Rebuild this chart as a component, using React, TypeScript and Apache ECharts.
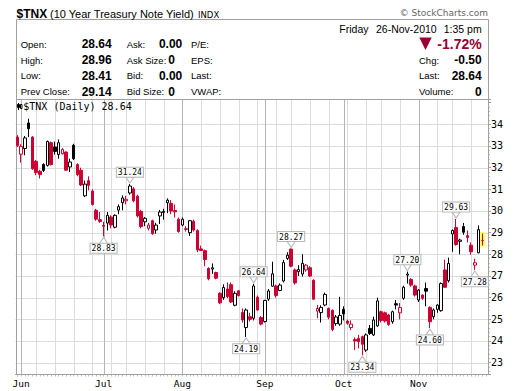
import { useEffect, useRef } from 'react';
import * as echarts from 'echarts';

// ---- data ----
const dates = [
  '05/28',
  '06/01','06/02','06/03','06/04','06/07','06/08','06/09','06/10','06/11','06/14','06/15','06/16','06/17','06/18','06/21','06/22','06/23','06/24','06/25','06/28','06/29','06/30',
  '07/01','07/02','07/06','07/07','07/08','07/09','07/12','07/13','07/14','07/15','07/16','07/19','07/20','07/21','07/22','07/23','07/26','07/27','07/28','07/29','07/30',
  '08/02','08/03','08/04','08/05','08/06','08/09','08/10','08/11','08/12','08/13','08/16','08/17','08/18','08/19','08/20','08/23','08/24','08/25','08/26','08/27','08/30','08/31',
  '09/01','09/02','09/03','09/07','09/08','09/09','09/10','09/13','09/14','09/15','09/16','09/17','09/20','09/21','09/22','09/23','09/24','09/27','09/28','09/29','09/30',
  '10/01','10/04','10/05','10/06','10/07','10/08','10/12','10/13','10/14','10/15','10/18','10/19','10/20','10/21','10/22','10/25','10/26','10/27','10/28','10/29',
  '11/01','11/02','11/03','11/04','11/05','11/08','11/09','11/10','11/12','11/15','11/16','11/17','11/18','11/19','11/22','11/23','11/24','11/26',
];

const opens = [
  33.41, 32.62, 32.88, 34.06, 33.41, 32.29, 31.83, 32.15, 32.10, 33.15,
  32.95, 32.60, 32.64, 32.72, 32.03, 33.03, 32.14, 31.88, 30.70, 31.40,
  30.92, 30.03, 29.60, 29.33, 29.44, 29.72, 29.25, 30.04, 30.38, 30.47,
  30.83, 31.02, 30.68, 29.98, 29.50, 29.20, 29.55, 29.12, 29.77, 29.93,
  30.38, 30.35, 30.02, 29.62, 29.35, 29.18, 29.00, 29.52, 29.10, 28.25,
  28.17, 27.35, 27.32, 27.16, 26.20, 26.00, 26.40, 26.60, 25.65, 26.32,
  25.31, 24.62, 25.12, 25.05, 26.02, 25.08, 24.90, 25.93, 26.53, 26.54,
  26.33, 26.77, 27.81, 28.24, 27.28, 27.20, 27.09, 27.28, 27.38, 26.80,
  25.38, 25.31, 25.66, 25.50, 25.42, 24.80, 24.78, 25.46, 24.92, 24.62,
  24.07, 24.12, 24.20, 23.58, 24.58, 24.28, 24.70, 25.35, 25.30, 25.20,
  24.89, 25.72, 25.30, 25.97, 27.04, 26.84, 26.54, 25.89, 26.12, 26.42,
  25.55, 25.12, 25.46, 25.40, 27.28, 26.78, 28.94, 29.24, 28.60, 29.28,
  28.86, 28.42, 27.50, 28.07, 28.64,
];

const highs = [
  33.50, 33.08, 33.46, 34.26, 33.45, 32.35, 31.90, 32.20, 33.25, 33.20,
  33.20, 33.30, 32.90, 32.75, 32.41, 33.10, 32.20, 32.00, 31.40, 31.60,
  31.00, 30.10, 29.95, 29.50, 29.95, 29.80, 29.85, 30.30, 30.72, 30.70,
  31.24, 31.10, 30.75, 30.05, 29.72, 29.45, 29.60, 29.45, 30.05, 30.10,
  30.58, 30.50, 30.30, 29.70, 29.70, 29.30, 29.58, 29.60, 29.15, 28.40,
  28.22, 27.40, 27.58, 27.20, 26.25, 26.62, 26.70, 26.70, 26.30, 26.35,
  25.50, 25.50, 25.30, 26.64, 26.10, 25.15, 25.90, 26.40, 27.66, 26.60,
  26.66, 27.74, 28.10, 28.27, 27.35, 27.50, 28.00, 27.55, 27.45, 26.85,
  25.66, 25.65, 26.23, 25.55, 25.45, 25.20, 26.04, 25.60, 24.98, 24.95,
  24.17, 24.28, 24.25, 24.35, 24.74, 25.12, 26.00, 25.40, 25.35, 25.25,
  25.40, 25.89, 25.75, 26.55, 27.20, 26.90, 26.60, 26.40, 26.15, 26.70,
  25.60, 25.50, 25.70, 26.70, 27.75, 27.85, 29.15, 29.63, 28.72, 29.45,
  29.10, 28.55, 27.80, 29.33, 28.96,
];

const lows = [
  32.95, 32.23, 32.57, 33.41, 31.90, 31.65, 31.50, 31.80, 32.05, 32.10,
  32.60, 32.41, 32.60, 31.85, 31.80, 32.35, 31.60, 31.15, 30.64, 30.95,
  30.25, 29.55, 29.45, 28.83, 29.10, 29.20, 29.20, 29.85, 30.03, 30.30,
  30.75, 30.40, 29.70, 29.20, 29.30, 29.10, 28.90, 28.95, 29.40, 29.60,
  29.90, 29.85, 29.70, 29.00, 29.30, 29.05, 28.85, 29.05, 28.10, 28.15,
  27.45, 26.80, 27.10, 26.85, 25.70, 25.90, 25.98, 25.75, 25.60, 26.05,
  24.85, 24.19, 24.90, 24.95, 25.40, 24.72, 24.85, 25.85, 26.50, 26.00,
  26.30, 26.70, 27.74, 27.40, 26.60, 27.00, 26.97, 27.20, 26.95, 25.90,
  25.05, 24.85, 25.60, 25.00, 24.45, 24.70, 24.70, 24.95, 24.75, 24.50,
  23.58, 23.66, 23.34, 23.50, 24.28, 24.23, 24.65, 24.85, 24.85, 24.70,
  24.80, 25.46, 25.00, 25.90, 26.65, 26.50, 26.05, 25.80, 25.90, 25.60,
  24.60, 25.00, 25.30, 25.35, 26.45, 26.70, 28.12, 28.40, 28.00, 28.90,
  28.55, 27.98, 27.28, 28.05, 28.41,
];

const closes = [
  33.02, 32.98, 33.37, 33.80, 31.95, 31.77, 31.68, 31.87, 33.21, 32.14,
  32.75, 33.15, 32.84, 31.88, 32.26, 32.41, 31.68, 31.20, 31.24, 31.18,
  30.30, 29.62, 29.52, 29.30, 29.80, 29.35, 29.80, 30.20, 30.60, 30.54,
  31.15, 30.47, 29.77, 29.28, 29.66, 29.35, 28.95, 29.35, 29.95, 29.98,
  30.50, 30.00, 29.96, 29.05, 29.62, 29.15, 29.55, 29.12, 28.20, 28.18,
  27.76, 26.87, 27.38, 26.90, 25.76, 26.47, 26.05, 25.80, 26.20, 26.10,
  24.97, 25.43, 25.00, 26.54, 25.43, 24.78, 25.87, 26.31, 27.10, 26.10,
  26.58, 27.62, 27.96, 27.45, 26.68, 27.30, 27.58, 27.50, 27.00, 25.93,
  25.50, 25.55, 26.15, 25.10, 24.53, 25.11, 25.18, 25.25, 24.82, 24.78,
  24.00, 23.97, 23.85, 24.28, 24.35, 24.97, 25.85, 24.95, 24.92, 24.76,
  25.35, 25.66, 25.55, 26.48, 27.09, 26.58, 26.12, 26.35, 25.97, 26.30,
  24.89, 25.43, 25.66, 26.65, 26.48, 27.58, 29.10, 28.45, 28.66, 29.02,
  28.78, 28.12, 27.61, 29.14, 28.64,
];

const yTicks = [23, 24, 25, 26, 27, 28, 29, 30, 31, 32, 33, 34];
const monthNames = ['Jan', 'Feb', 'Mar', 'Apr', 'May', 'Jun', 'Jul', 'Aug', 'Sep', 'Oct', 'Nov', 'Dec'];
const highMarks = [30, 63, 73, 104, 117];
const lowMarks = [23, 61, 92, 110, 122];

const RED = '#cc0033';
const DARK_RED = '#990033';
const SANS = '"Liberation Sans", Arial, sans-serif';
const MONO = '"DejaVu Sans Mono", monospace';

function toDate(s: string) {
  const [m, d] = s.split('/').map(Number);
  return new Date(2010, m - 1, d);
}

function txt(text: string, x: number, y: number, font: string, opts: any = {}) {
  return {
    type: 'text',
    x,
    y,
    z: 20,
    silent: true,
    style: {
      text,
      font,
      fill: opts.fill || '#000',
      align: opts.align || 'left',
      textAlign: opts.align || 'left',
      verticalAlign: 'middle',
      textVerticalAlign: 'middle',
    },
  };
}

export default function App() {
  const ref = useRef<HTMLDivElement>(null);

  useEffect(() => {
    document.body.style.margin = '0';
    const chart = echarts.init(ref.current!, null, { renderer: 'svg' });

    const ds = dates.map(toDate);
    const monthStart = dates.map((_, i) => i > 0 && ds[i].getMonth() !== ds[i - 1].getMonth());
    const weekStart = dates.map(
      (_, i) =>
        i > 0 &&
        (ds[i].getDay() < ds[i - 1].getDay() || ds[i].getTime() - ds[i - 1].getTime() >= 7 * 86400000)
    );
    const cats = [...dates, ''];

    const candleData = dates.map((_, i) => {
      const o = opens[i];
      const c = closes[i];
      const prev = i > 0 ? closes[i - 1] : o;
      const col = c < prev ? RED : '#000000';
      const fill = c > o ? '#ffffff' : col;
      return {
        value: [o, c, lows[i], highs[i]],
        itemStyle: {
          color: fill,
          color0: fill,
          borderColor: col,
          borderColor0: col,
          borderColorDoji: col,
          borderWidth: 1,
        },
      };
    });

    const vLines: number[][] = [];
    dates.forEach((_, i) => {
      if (monthStart[i] || weekStart[i]) vLines.push([i, 30, monthStart[i] ? 1 : 0]);
    });

    const last = dates.length - 1;

    const graphic: any[] = [
      // header box & plot frame
      { type: 'rect', z: 1, silent: true, shape: { x: 16.5, y: 19.5, width: 472, height: 80 }, style: { fill: '#fff', stroke: '#a0a0a0', lineWidth: 1 } },
      { type: 'rect', z: 1, silent: true, shape: { x: 16.5, y: 99.5, width: 472, height: 275 }, style: { fill: 'none', stroke: '#a0a0a0', lineWidth: 1 } },
      // title
      txt('$TNX', 16.5, 14, `bold 12px ${SANS}`),
      txt('(10 Year Treasury Note Yield)', 50, 14, `11px ${SANS}`),
      txt('INDX', 198, 14.5, `8.5px "DejaVu Sans", sans-serif`),
      txt('\u00A9 StockCharts.com', 488, 12.5, `9px "DejaVu Sans", sans-serif`, { align: 'right', fill: '#666' }),
      // left table
      txt('Open:', 20.7, 44, `9.5px ${SANS}`),
      txt('High:', 20.7, 60, `9.5px ${SANS}`),
      txt('Low:', 20.7, 75.7, `9.5px ${SANS}`),
      txt('Prev Close:', 20.7, 91.7, `9.5px ${SANS}`),
      txt('28.64', 111.7, 44, `bold 12px ${SANS}`, { align: 'right' }),
      txt('28.96', 111.7, 60, `bold 12px ${SANS}`, { align: 'right' }),
      txt('28.41', 111.7, 75.7, `bold 12px ${SANS}`, { align: 'right' }),
      txt('29.14', 111.7, 91.7, `bold 12px ${SANS}`, { align: 'right' }),
      txt('Ask:', 126.7, 44, `9.5px ${SANS}`),
      txt('Ask Size:', 126.7, 60, `9.5px ${SANS}`),
      txt('Bid:', 126.7, 75.7, `9.5px ${SANS}`),
      txt('Bid Size:', 126.7, 91.7, `9.5px ${SANS}`),
      txt('0.00', 182.3, 44, `bold 12px ${SANS}`, { align: 'right' }),
      txt('0', 175, 60, `bold 12px ${SANS}`, { align: 'right' }),
      txt('0.00', 182.3, 75.7, `bold 12px ${SANS}`, { align: 'right' }),
      txt('0', 175, 91.7, `bold 12px ${SANS}`, { align: 'right' }),
      txt('P/E:', 191, 44, `9.5px ${SANS}`),
      txt('EPS:', 191, 60, `9.5px ${SANS}`),
      txt('Last:', 191, 75.7, `9.5px ${SANS}`),
      txt('VWAP:', 191, 91.7, `9.5px ${SANS}`),
      // right block
      txt('Friday', 339.3, 29, `10.5px ${SANS}`),
      txt('26-Nov-2010', 376, 29, `10.5px ${SANS}`),
      txt('1:35 pm', 481.7, 29, `10.5px ${SANS}`, { align: 'right' }),
      {
        type: 'polygon', z: 20, silent: true,
        shape: { points: [[419.3, 37.5], [431.7, 37.5], [425.5, 50]] },
        style: { fill: DARK_RED },
      },
      txt('-1.72%', 481.7, 43.8, `bold 14px ${SANS}`, { align: 'right', fill: DARK_RED }),
      txt('Chg:', 419, 60, `9.5px ${SANS}`),
      txt('-0.50', 481.7, 60, `bold 12px ${SANS}`, { align: 'right' }),
      txt('Last:', 419, 75.7, `9.5px ${SANS}`),
      txt('28.64', 481.7, 75.7, `bold 12px ${SANS}`, { align: 'right' }),
      txt('Volume:', 419, 91.7, `9.5px ${SANS}`),
      txt('0', 481.7, 91.7, `bold 12px ${SANS}`, { align: 'right' }),
      // chart legend
      { type: 'line', z: 20, silent: true, shape: { x1: 18.5, y1: 103, x2: 18.5, y2: 110 }, style: { stroke: '#000', lineWidth: 1 } },
      { type: 'rect', z: 20, silent: true, shape: { x: 17.5, y: 104.5, width: 2, height: 3 }, style: { fill: '#000', stroke: '#000', lineWidth: 1 } },
      { type: 'rect', z: 20, silent: true, shape: { x: 20.5, y: 104.5, width: 1.5, height: 4 }, style: { fill: '#fff', stroke: '#000', lineWidth: 1 } },
      txt('$TNX (Daily) 28.64', 23.3, 106.7, `10px ${MONO}`),
    ];

    const option: any = {
      animation: false,
      backgroundColor: '#ffffff',
      grid: { left: 15.5, right: 32, top: 99.5, bottom: 16.5, containLabel: false },
      xAxis: {
        type: 'category',
        data: cats,
        boundaryGap: true,
        axisLine: { show: true, lineStyle: { color: '#a0a0a0' } },
        axisTick: { show: true, interval: 0, length: 2, alignWithLabel: true, lineStyle: { color: '#c0c0c0' } },
        axisLabel: {
          interval: (idx: number) => !!monthStart[idx],
          formatter: (_v: string, idx: number) => (monthStart[idx] ? monthNames[ds[idx].getMonth()] : ''),
          color: '#000',
          fontFamily: MONO,
          fontSize: 9.5,
          margin: 4,
        },
        splitLine: { show: false },
      },
      yAxis: {
        type: 'value',
        position: 'right',
        min: 22.454,
        max: 35.144,
        splitNumber: 12,
        axisLine: { show: true, lineStyle: { color: '#a0a0a0' } },
        axisTick: { show: true, length: 3, lineStyle: { color: '#a0a0a0' } },
        minorTick: { show: true, splitNumber: 5, length: 2, lineStyle: { color: '#c0c0c0' } },
        axisLabel: {
          color: '#000',
          fontFamily: MONO,
          fontSize: 10,
          margin: 3,
          showMinLabel: false,
          showMaxLabel: false,
          formatter: (v: number) =>
            Math.abs(v - Math.round(v)) < 1e-6 && yTicks.includes(Math.round(v)) ? String(Math.round(v)) : '',
        },
        splitLine: { show: false },
      },
      graphic,
      series: [
        {
          type: 'custom',
          name: 'hgrid',
          silent: true,
          z: 0,
          encode: { x: 0, y: 1 },
          data: yTicks.map((v) => [0, v]),
          renderItem: (params: any, api: any) => {
            const y = Math.round(api.coord([0, api.value(1)])[1]) + 0.5;
            const cs = params.coordSys;
            return {
              type: 'line',
              shape: { x1: cs.x, y1: y, x2: cs.x + cs.width, y2: y },
              style: { stroke: '#dcdcdc', lineWidth: 1 },
            };
          },
        },
        {
          type: 'custom',
          name: 'vgrid',
          silent: true,
          z: 0,
          encode: { x: 0, y: 1 },
          data: vLines,
          renderItem: (params: any, api: any) => {
            const x = Math.round(api.coord([api.value(0), api.value(1)])[0]) + 0.5;
            const cs = params.coordSys;
            return {
              type: 'line',
              shape: { x1: x, y1: cs.y, x2: x, y2: cs.y + cs.height },
              style: { stroke: api.value(2) ? '#b4b4b4' : '#dcdcdc', lineWidth: 1 },
            };
          },
        },
        {
          type: 'custom',
          name: 'highlight',
          silent: true,
          z: 1,
          encode: { x: 0, y: [1, 2] },
          data: [[last, lows[last], highs[last]]],
          renderItem: (_params: any, api: any) => {
            const top = api.coord([api.value(0), api.value(2)]);
            const bot = api.coord([api.value(0), api.value(1)]);
            return {
              type: 'rect',
              shape: { x: top[0] - 3, y: top[1] - 1.5, width: 6, height: bot[1] - top[1] + 3 },
              style: { fill: '#ffff66' },
            };
          },
        },
        {
          type: 'candlestick',
          name: '$TNX',
          z: 2,
          barWidth: 3,
          data: candleData,
          markPoint: {
            silent: true,
            symbol: 'triangle',
            symbolSize: [8, 6],
            itemStyle: { color: '#ffffff', borderColor: '#b8b8b8', borderWidth: 1 },
            label: {
              show: true,
              formatter: '{c}',
              color: '#000',
              fontFamily: MONO,
              fontSize: 8,
              lineHeight: 8,
              backgroundColor: '#ffffff',
              borderColor: '#b8b8b8',
              borderWidth: 1,
              padding: [1, 1, 0, 1],
              distance: 0,
            },
            data: [
              ...highMarks.map((i) => ({
                coord: [dates[i], highs[i]],
                value: highs[i].toFixed(2),
                symbolRotate: 180,
                symbolOffset: [0, -4],
                label: { position: 'top' },
              })),
              ...lowMarks.map((i) => ({
                coord: [dates[i], lows[i]],
                value: lows[i].toFixed(2),
                symbolOffset: [0, 4],
                label: { position: 'bottom' },
              })),
            ],
          },
        },
      ],
    };

    chart.setOption(option);
    return () => chart.dispose();
  }, []);

  return (
    <div
      ref={ref}
      style={{ position: 'fixed', left: 0, top: 0, width: 520, height: 391, background: '#fff' }}
    />
  );
}
